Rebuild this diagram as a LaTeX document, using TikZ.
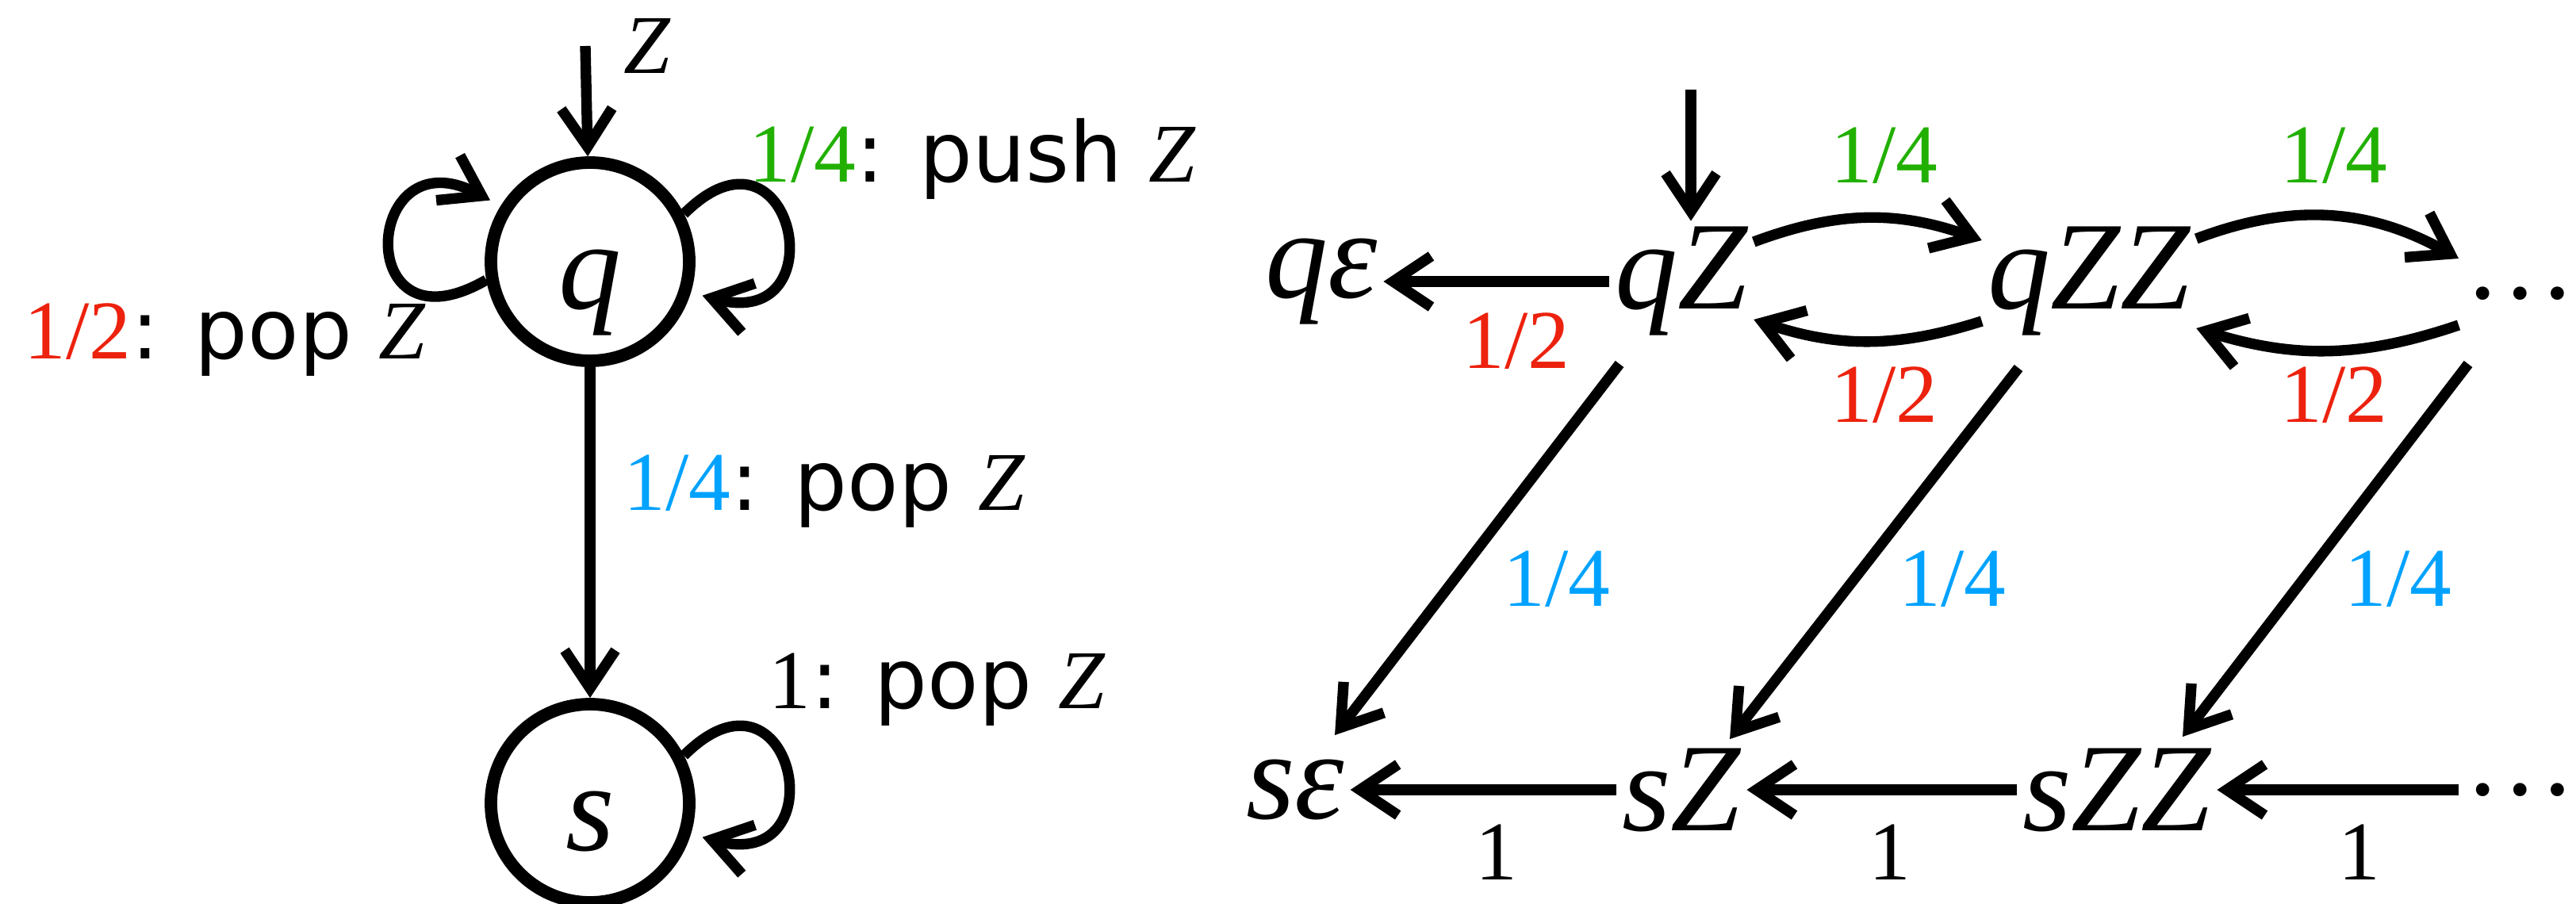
\documentclass[tikz,border=0pt]{standalone}
\usepackage{fontspec}
\setmainfont{Liberation Serif}
\newfontfamily\labsans{DejaVu Sans}
\usepackage{xcolor}
\usetikzlibrary{arrows.meta}
\definecolor{popred}{RGB}{236,34,14}
\definecolor{pushgreen}{RGB}{34,176,0}
\definecolor{popblue}{RGB}{0,162,255}
\newcommand{\sym}[1]{\textit{#1}}
\newcommand{\op}[1]{{\labsans #1}}

\begin{document}
\begin{tikzpicture}[
    statecirc/.style={circle, draw=black, line width=4.5pt, minimum size=2.5cm,
      inner sep=0pt, text height=1.18cm, text depth=0cm,
      font=\fontsize{45}{54}\selectfont\itshape},
    config/.style={inner sep=2pt, font=\fontsize{45}{54}\selectfont\itshape},
    dotsnode/.style={inner sep=2pt, font=\fontsize{40}{48}\selectfont},
    trans/.style={-{Straight Barb[length=4.8mm,width=6.4mm]}, line width=3.8pt},
    looptrans/.style={trans, shorten >=1.5mm},
    lab/.style={inner sep=0pt, anchor=base west, font=\fontsize{30}{36}\selectfont},
    edgelab/.style={inner sep=0pt, anchor=base, font=\fontsize{30}{36}\selectfont}
  ]
  \useasboundingbox (0,0) rectangle (32.48,11.39);

  % ============ Left: the automaton with states q and s ============
  \node[statecirc] (q) at (7.44,8.09) {q};
  \node[statecirc] (s) at (7.44,1.26) {s};
  \coordinate (qin) at (7.38,10.81);
  \node[lab] (qinlab) at (7.86,10.46) {\sym{Z}};

  \draw[trans] (qin) -- (q);
  \draw[looptrans] (q.190) to[out=210,in=152,looseness=5.3] (q.148);
  \draw[looptrans] (q.27) to[out=45,in=-15,looseness=5] (q.-17);
  \draw[trans] (q) -- (s);
  \draw[looptrans] (s.27) to[out=45,in=-15,looseness=5] (s.-17);

  \node[lab] (qpush) at (9.44,9.10) {\textcolor{pushgreen}{1/4}\op{: push }\sym{Z}};
  \node[lab] (qpop)  at (0.30,6.87) {\textcolor{popred}{1/2}\op{: pop }\sym{Z}};
  \node[lab] (qspop) at (7.86,4.96) {\textcolor{popblue}{1/4}\op{: pop }\sym{Z}};
  \node[lab] (spop)  at (9.69,2.46) {1\op{: pop }\sym{Z}};

  % ============ Right: configurations, row q (y = 7.84) ============
  \node[config]   (qe)    at (16.66,7.84) {qε};
  \node[config]   (qZ)    at (21.20,7.84) {qZ};
  \node[config]   (qZZ)   at (26.34,7.84) {qZZ};
  \node[dotsnode] (qdots) at (31.78,7.69) {…};

  % ============ Right: configurations, row s (y = 1.43) ============
  \node[config]   (se)    at (16.33,1.43) {sε};
  \node[config]   (sZ)    at (21.20,1.43) {sZ};
  \node[config]   (sZZ)   at (26.69,1.43) {sZZ};
  \node[dotsnode] (sdots) at (31.78,1.43) {…};

  % ============ Transitions between configurations ============
  \coordinate (qZin) at (21.32,10.26);
  \draw[trans] (qZin) -- (qZin |- qZ.north);

  \draw[trans] (qZ) -- (qe);
  \draw[trans] ([yshift=5mm]qZ.east) to[bend left=20] ([yshift=5.2mm]qZZ.west);
  \draw[trans] ([yshift=-5mm]qZZ.west) to[bend left=18] ([yshift=-4.8mm]qZ.east);
  \draw[trans] ([yshift=5.4mm]qZZ.east) to[bend left=25] ([yshift=4.4mm]qdots.west);
  \draw[trans] ([yshift=-4mm]qdots.west) to[bend left=18] ([yshift=-5.9mm]qZZ.east);

  % pop to s: parallel diagonals
  \draw[trans] ([xshift=-7.8mm,yshift=-10.4mm]qZ.center) -- ([xshift=5mm,yshift=6.9mm]se.center);
  \draw[trans] ([xshift=-8.9mm,yshift=-10.9mm]qZZ.center) -- ([xshift=6.1mm,yshift=6.4mm]sZ.center);
  \draw[trans] ([xshift=-6.6mm,yshift=-8.9mm]qdots.center) -- ([xshift=8.3mm,yshift=6.7mm]sZZ.center);

  \draw[trans] (sZ) -- (se);
  \draw[trans] (sZZ) -- (sZ);
  \draw[trans] (sdots) -- (sZZ);

  % ============ Edge labels ============
  \node[edgelab, text=popred]    (l1) at (19.12,6.75) {1/2};
  \node[edgelab, text=pushgreen] (l2) at (23.76,9.09) {1/4};
  \node[edgelab, text=pushgreen] (l3) at (29.43,9.09) {1/4};
  \node[edgelab, text=popred]    (l4) at (23.76,6.07) {1/2};
  \node[edgelab, text=popred]    (l5) at (29.43,6.07) {1/2};
  \node[edgelab, text=popblue]   (l6) at (19.63,3.75) {1/4};
  \node[edgelab, text=popblue]   (l7) at (24.62,3.75) {1/4};
  \node[edgelab, text=popblue]   (l8) at (30.24,3.75) {1/4};
  \node[edgelab] (l9)  at (18.87,0.30) {1};
  \node[edgelab] (l10) at (23.83,0.30) {1};
  \node[edgelab] (l11) at (29.75,0.30) {1};

\end{tikzpicture}
\end{document}
